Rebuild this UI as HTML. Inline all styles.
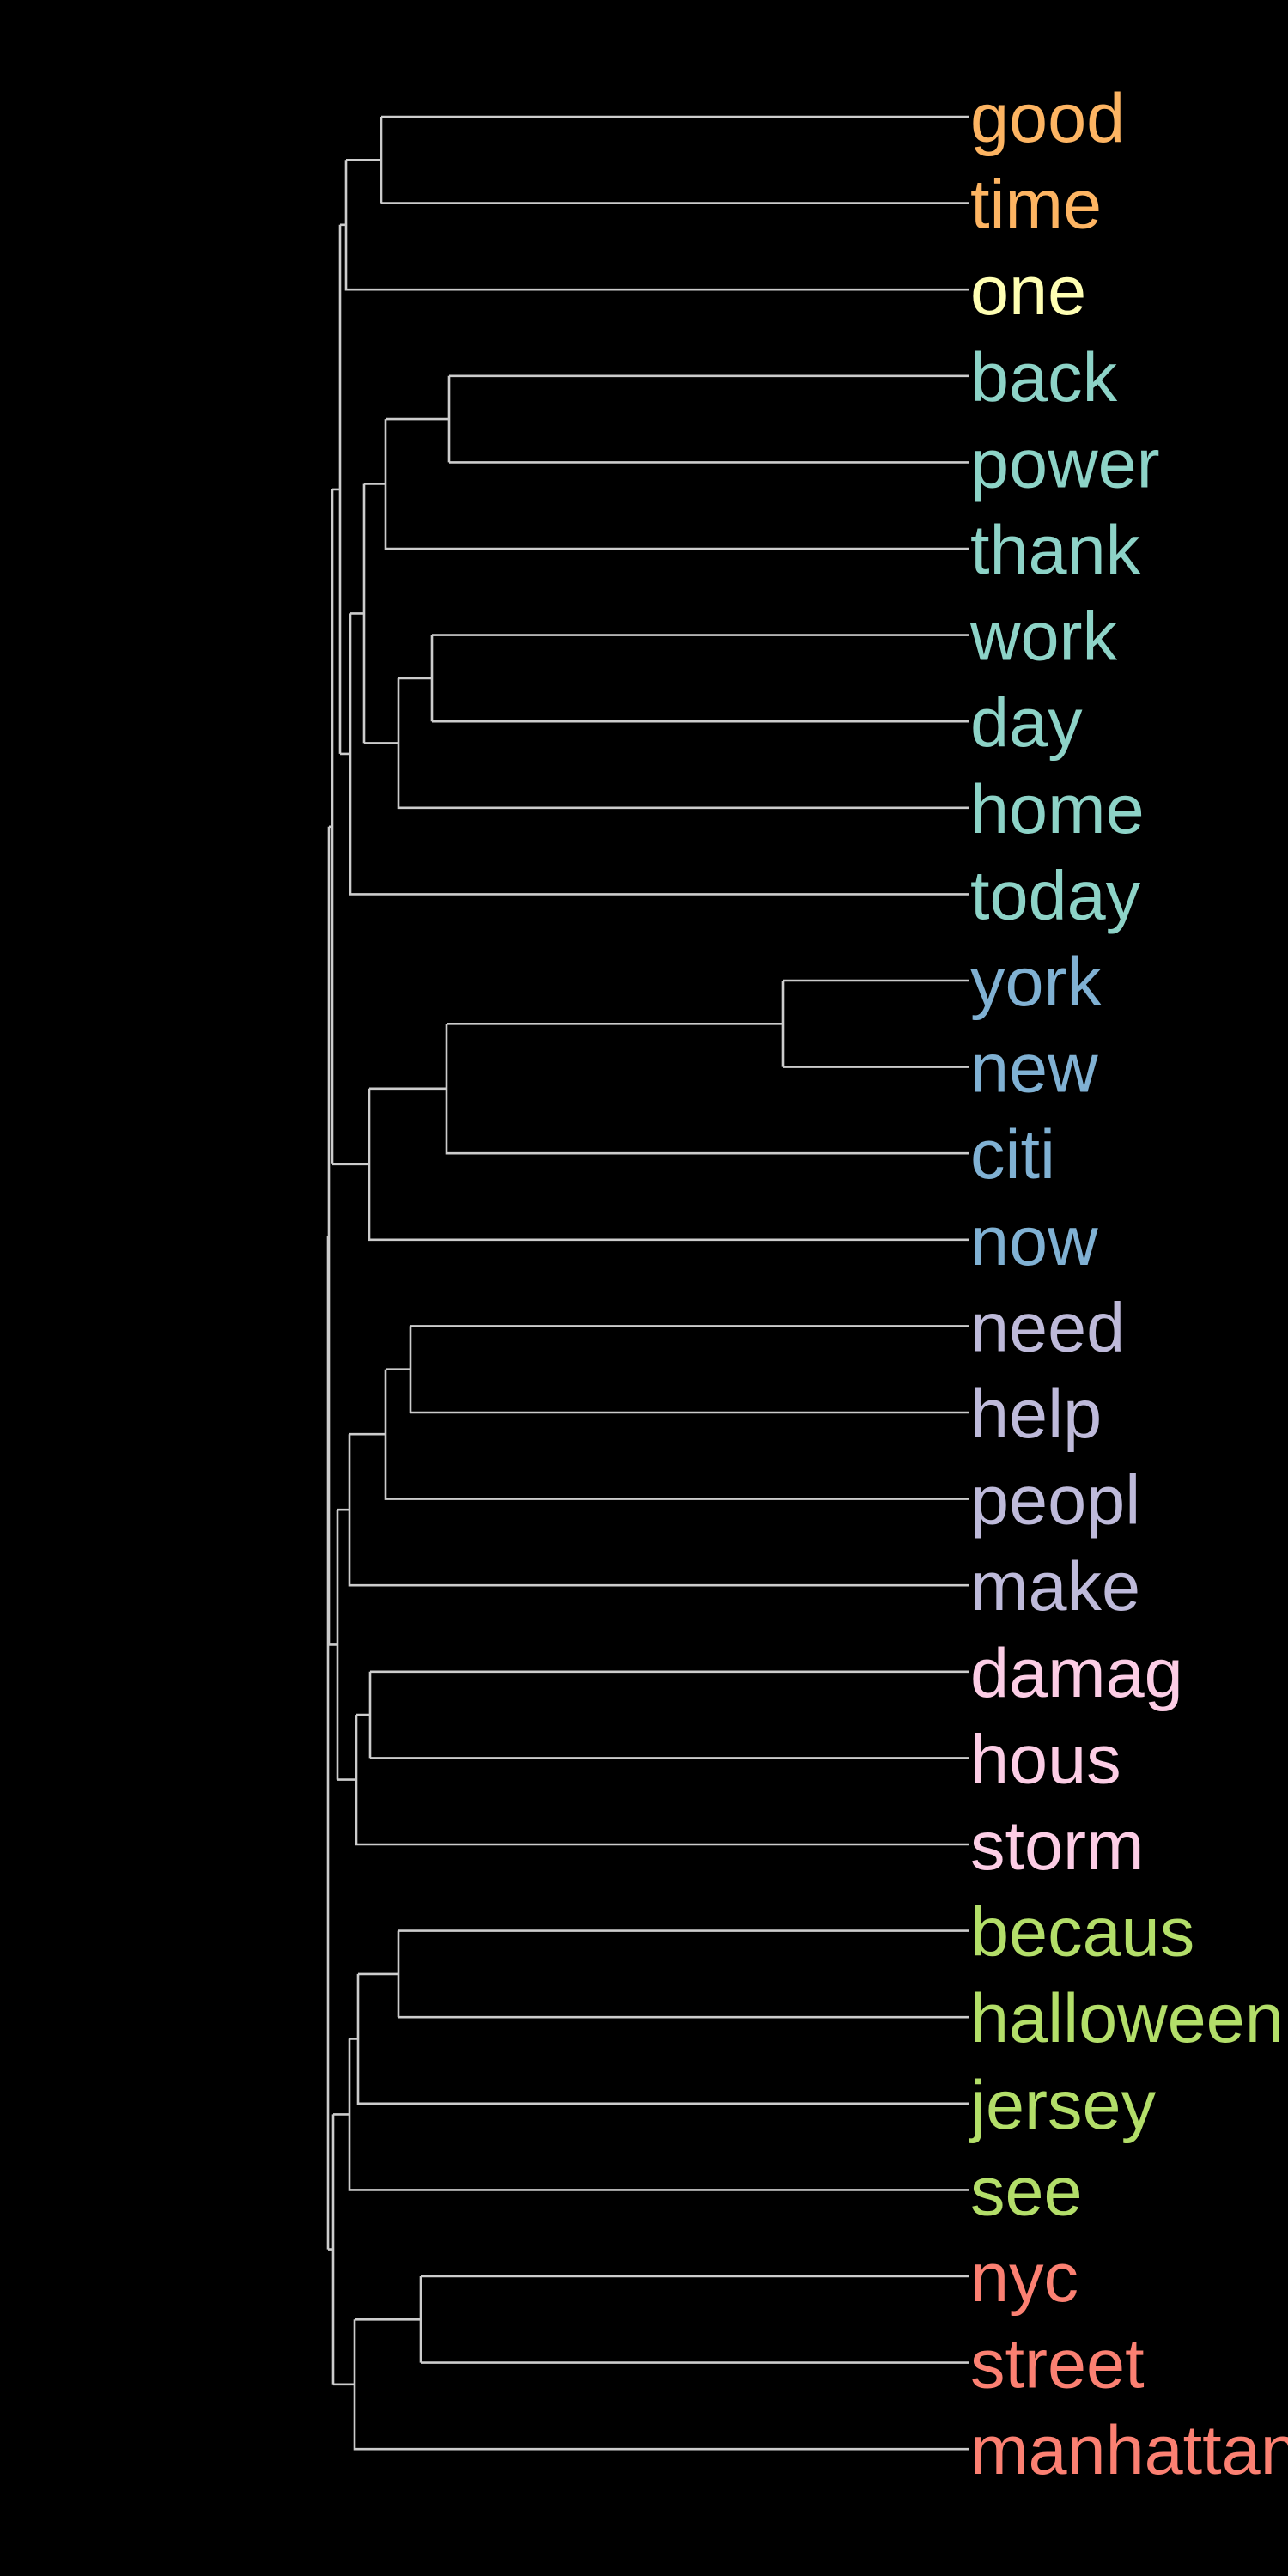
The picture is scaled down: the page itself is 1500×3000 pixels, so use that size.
<!DOCTYPE html>
<html><head><meta charset="utf-8"><style>html,body{margin:0;padding:0;background:#000}svg{display:block}</style></head>
<body>
<svg width="1500" height="3000" viewBox="0 0 1500 3000" xmlns="http://www.w3.org/2000/svg">
<rect width="1500" height="3000" fill="#000"/>
<g fill="none" stroke="#cccccc" stroke-width="2.6">
<!-- leaves -->
<path d="M444 136H1128M444 236.6H1128M444 136V236.6"/>
<path d="M403 186.3V337.2H1128M403 186.3H444"/>
<path d="M523 437.8H1128M523 538.4H1128M523 437.8V538.4"/>
<path d="M449 488.1H523M449 488.1V639H1128"/>
<path d="M503 739.6H1128M503 840.2H1128M503 739.6V840.2"/>
<path d="M464 789.9H503M464 789.9V940.8H1128"/>
<path d="M424 563.5H449M424 865.4H464M424 563.5V865.4"/>
<path d="M408 714.4H424M408 714.4V1041.4H1128"/>
<path d="M396 261.8H403M396 877.9H408M396 261.8V877.9"/>
<path d="M912 1142H1128M912 1242.6H1128M912 1142V1242.6"/>
<path d="M520 1192.3H912M520 1192.3V1343.2H1128"/>
<path d="M430 1267.8H520M430 1267.8V1443.8H1128"/>
<path d="M387 569.9H396M387 1355.8H430M387 569.9V1355.8"/>
<path d="M478 1544.4H1128M478 1645H1128M478 1544.4V1645"/>
<path d="M449 1594.7H478M449 1594.7V1745.6H1128"/>
<path d="M407 1670.2H449M407 1670.2V1846.2H1128"/>
<path d="M431 1946.8H1128M431 2047.4H1128M431 1946.8V2047.4"/>
<path d="M415 1997.1H431M415 1997.1V2148H1128"/>
<path d="M393 1758.2H407M393 2072.6H415M393 1758.2V2072.6"/>
<path d="M383 962.8H387M383 1915.4H393M383 962.8V1915.4"/>
<path d="M464 2248.6H1128M464 2349.2H1128M464 2248.6V2349.2"/>
<path d="M417 2298.9H464M417 2298.9V2449.8H1128"/>
<path d="M407 2374.4H417M407 2374.4V2550.4H1128"/>
<path d="M490 2651H1128M490 2751.6H1128M490 2651V2751.6"/>
<path d="M413 2701.3H490M413 2701.3V2852.2H1128"/>
<path d="M388 2462.4H407M388 2776.8H413M388 2462.4V2776.8"/>
<path d="M382 1439.1H383M382 2619.6H388M382 1439.1V2619.6"/>
</g>
<g font-family="'Liberation Sans', Arial, sans-serif" font-size="81">
<text x="1130" y="165" fill="#fdb462">good</text>
<text x="1130" y="265.6" fill="#fdb462">time</text>
<text x="1130" y="366.2" fill="#ffffb3">one</text>
<text x="1130" y="466.8" fill="#8dd3c7">back</text>
<text x="1130" y="567.4" fill="#8dd3c7">power</text>
<text x="1130" y="668" fill="#8dd3c7">thank</text>
<text x="1130" y="768.6" fill="#8dd3c7">work</text>
<text x="1130" y="869.2" fill="#8dd3c7">day</text>
<text x="1130" y="969.8" fill="#8dd3c7">home</text>
<text x="1130" y="1070.4" fill="#8dd3c7">today</text>
<text x="1130" y="1171" fill="#80b1d3">york</text>
<text x="1130" y="1271.6" fill="#80b1d3">new</text>
<text x="1130" y="1372.2" fill="#80b1d3">citi</text>
<text x="1130" y="1472.8" fill="#80b1d3">now</text>
<text x="1130" y="1573.4" fill="#bebada">need</text>
<text x="1130" y="1674" fill="#bebada">help</text>
<text x="1130" y="1774.6" fill="#bebada">peopl</text>
<text x="1130" y="1875.2" fill="#bebada">make</text>
<text x="1130" y="1975.8" fill="#fccde5">damag</text>
<text x="1130" y="2076.4" fill="#fccde5">hous</text>
<text x="1130" y="2177" fill="#fccde5">storm</text>
<text x="1130" y="2277.6" fill="#b3de69">becaus</text>
<text x="1130" y="2378.2" fill="#b3de69">halloween</text>
<text x="1130" y="2478.8" fill="#b3de69">jersey</text>
<text x="1130" y="2579.4" fill="#b3de69">see</text>
<text x="1130" y="2680" fill="#fb8072">nyc</text>
<text x="1130" y="2780.6" fill="#fb8072">street</text>
<text x="1130" y="2881.2" fill="#fb8072">manhattan</text>
</g>
</svg>
</body></html>
